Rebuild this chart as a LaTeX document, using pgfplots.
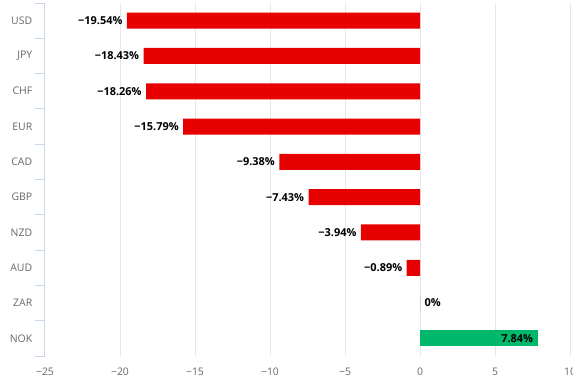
\documentclass[border=0pt]{standalone}
\usepackage{fontspec}
\setmainfont{Open Sans}
\usepackage{pgfplots}
\pgfplotsset{compat=1.18}
\definecolor{barred}{HTML}{E60000}
\definecolor{bargreen}{HTML}{00B86B}
\definecolor{gridc}{HTML}{E6E6E6}
\definecolor{axc}{HTML}{CCD6EB}
\definecolor{lblc}{HTML}{666666}
\begin{document}
\begin{tikzpicture}[x=1bp,y=1bp]
\useasboundingbox (-45,-28) rectangle (528,356);
\begin{axis}[
  at={(0,0)}, anchor=south west,
  scale only axis, width=525bp, height=353bp,
  xmin=-25, xmax=10, ymin=-0.5, ymax=9.5, y dir=reverse,
  xbar, bar width=16bp,
  axis x line*=bottom, x axis line style={draw=none},
  axis y line*=left, y axis line style={draw=axc, line width=1bp},
  xtick={-25,-20,-15,-10,-5,0,5,10},
  xticklabels={−25,−20,−15,−10,−5,0,5,10},
  xmajorgrids, grid style={draw=gridc, line width=1bp},
  major x tick style={draw=none},
  ytick={0,...,9},
  yticklabels={USD,JPY,CHF,EUR,CAD,GBP,NZD,AUD,ZAR,NOK},
  major y tick style={draw=none},
  minor ytick={-0.5,0.5,...,9.5},
  minor y tick style={draw=axc, line width=1bp},
  minor tick length=10bp, tick align=outside,
  tick label style={font=\fontsize{10.5}{12}\selectfont, text=lblc},
  yticklabel style={xshift=-5bp},
  xticklabel style={yshift=-4bp},
  clip=false,
]
\addplot[fill=barred, draw=none, bar shift=0pt, nodes near coords, point meta=explicit symbolic,
  nodes near coords style={anchor=east, xshift=-1bp, font=\bfseries\fontsize{11}{13}\selectfont, text=black}]
  coordinates {
  (-19.54,0) [−19.54\%]
  (-18.43,1) [−18.43\%]
  (-18.26,2) [−18.26\%]
  (-15.79,3) [−15.79\%]
  (-9.38,4) [−9.38\%]
  (-7.43,5) [−7.43\%]
  (-3.94,6) [−3.94\%]
  (-0.89,7) [−0.89\%]
  };
\addplot[fill=barred, draw=none, bar shift=0pt, nodes near coords, point meta=explicit symbolic,
  nodes near coords style={anchor=west, xshift=1bp, font=\bfseries\fontsize{11}{13}\selectfont, text=black}]
  coordinates {(0,8) [0\%]};
\addplot[fill=bargreen, draw=none, bar shift=0pt, nodes near coords, point meta=explicit symbolic,
  nodes near coords style={anchor=east, xshift=-1bp, font=\bfseries\fontsize{11}{13}\selectfont, text=black}]
  coordinates {(7.84,9) [7.84\%]};
\end{axis}
\end{tikzpicture}
\end{document}
